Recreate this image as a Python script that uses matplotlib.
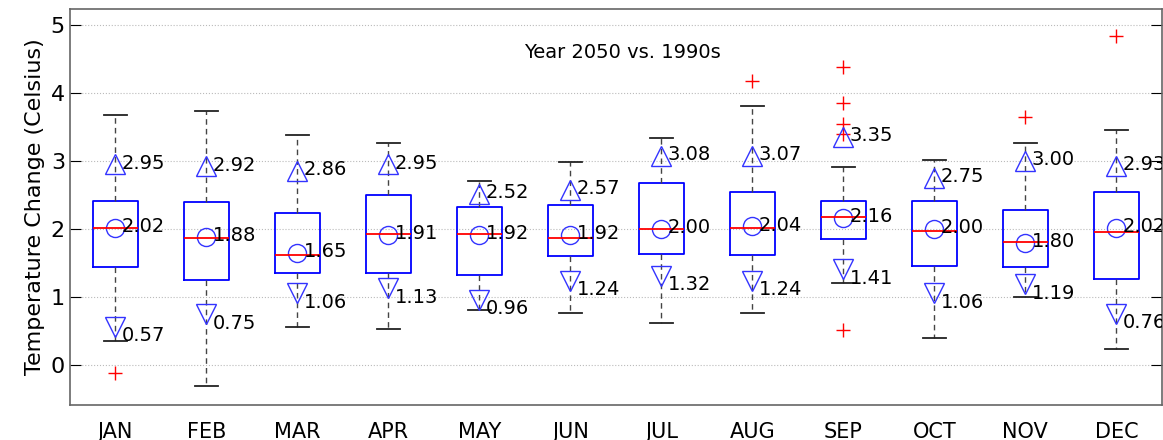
import numpy as np
import matplotlib
matplotlib.use("Agg")
import matplotlib.pyplot as plt

months = ['JAN', 'FEB', 'MAR', 'APR', 'MAY', 'JUN', 'JUL', 'AUG', 'SEP', 'OCT', 'NOV', 'DEC']

# box statistics
whis_lo = [0.36, -0.30, 0.57, 0.53, 0.81, 0.77, 0.63, 0.77, 1.21, 0.40, 1.01, 0.24]
q1 = [1.45, 1.25, 1.36, 1.35, 1.33, 1.60, 1.63, 1.62, 1.86, 1.46, 1.44, 1.27]
median = [2.02, 1.875, 1.62, 1.93, 1.93, 1.87, 2.00, 2.02, 2.18, 1.97, 1.81, 1.96]
q3 = [2.42, 2.40, 2.23, 2.50, 2.33, 2.35, 2.68, 2.54, 2.42, 2.41, 2.28, 2.54]
whis_hi = [3.68, 3.73, 3.38, 3.27, 2.70, 2.99, 3.34, 3.80, 2.91, 3.01, 3.27, 3.45]
outliers = [[-0.11], [], [], [], [], [], [], [4.17], [4.38, 3.85, 3.55, 3.39, 0.52], [], [3.65], [4.84]]

# mean and upper / lower markers with labels
means = [2.02, 1.88, 1.65, 1.91, 1.92, 1.92, 2.00, 2.04, 2.16, 2.00, 1.80, 2.02]
upper = [2.95, 2.92, 2.86, 2.95, 2.52, 2.57, 3.08, 3.07, 3.35, 2.75, 3.00, 2.93]
lower = [0.57, 0.75, 1.06, 1.13, 0.96, 1.24, 1.32, 1.24, 1.41, 1.06, 1.19, 0.76]

stats = []
for i in range(len(months)):
  stats.append({'whislo': whis_lo[i], 'q1': q1[i], 'med': median[i], 'q3': q3[i],
                'whishi': whis_hi[i], 'fliers': outliers[i], 'label': months[i]})

fig = plt.figure(figsize=(11.63, 4.4), dpi=100)
ax = fig.add_axes([0.060, 0.0795, 0.939, 0.90])

pos = np.arange(1, len(months) + 1)
ax.bxp(stats, positions=pos, widths=0.5, showfliers=True,
       boxprops=dict(color='blue', linewidth=1.3),
       medianprops=dict(color='red', linewidth=1.3),
       whiskerprops=dict(color='#444444', linestyle=(0, (4, 3)), linewidth=1.0),
       capprops=dict(color='#222222', linewidth=1.3), capwidths=0.25,
       flierprops=dict(marker='+', markeredgecolor='red', markersize=10, markeredgewidth=1.0, linestyle='none'))

mk = dict(linestyle='none', markerfacecolor='none', markeredgecolor='#3333ff', markeredgewidth=1.0)
ax.plot(pos, means, marker='o', markersize=13, **mk)
ax.plot(pos, upper, marker='^', markersize=15, **mk)
ax.plot(pos, lower, marker='v', markersize=15, **mk)

# labels; the DEC ones run into the right edge, as in the original
for i in range(len(months)):
  ax.text(pos[i] + 0.07, means[i] + 0.02, '%.2f' % means[i], fontsize=14, va='center', ha='left', clip_on=True)
  ax.text(pos[i] + 0.07, upper[i] + 0.02, '%.2f' % upper[i], fontsize=14, va='center', ha='left', clip_on=True)
  ax.text(pos[i] + 0.07, lower[i] - 0.13, '%.2f' % lower[i], fontsize=14, va='center', ha='left', clip_on=True)

ax.text(0.506, 0.89, 'Year 2050 vs. 1990s', transform=ax.transAxes, ha='center', va='center', fontsize=14)

ax.set_xlim(0.5, 12.5)
ax.set_ylim(-0.58, 5.23)
ax.set_yticks([0, 1, 2, 3, 4, 5])
ax.set_xticks(pos)
ax.set_xticklabels(months, fontsize=15)
ax.tick_params(axis='y', direction='in', length=8, labelsize=16, right=True, left=True)
ax.tick_params(axis='x', length=0, pad=12)
ax.grid(axis='y', linestyle=':', color='#bbbbbb', linewidth=0.8)
ax.set_axisbelow(True)
for s in ax.spines.values():
  s.set_color('#666666')
  s.set_linewidth(1.2)
ax.set_ylabel('Temperature Change (Celsius)', fontsize=16)

fig.savefig('out.png', dpi=100)
